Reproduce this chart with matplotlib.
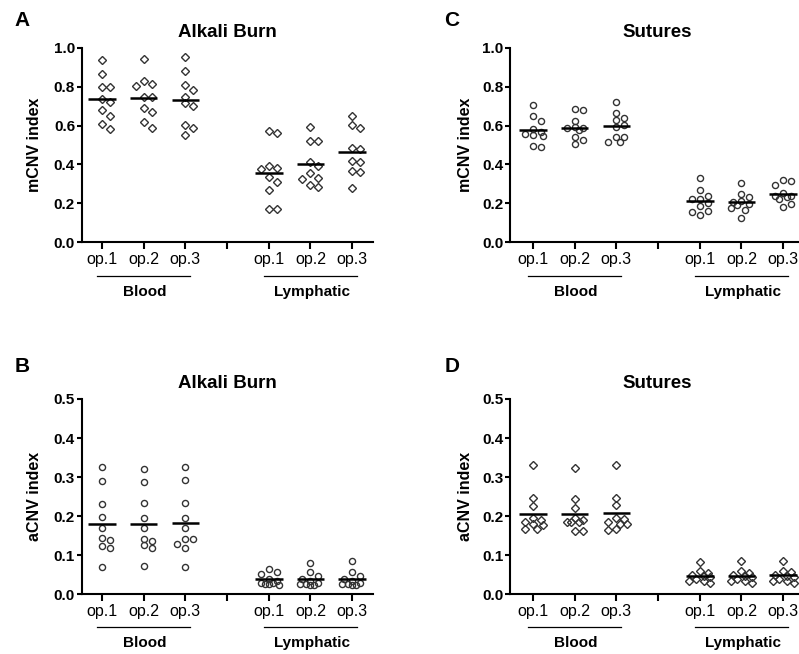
import numpy as np
import matplotlib
matplotlib.use("Agg")
import matplotlib.pyplot as plt
import matplotlib.transforms as mtransforms

plt.rcParams['font.family'] = ['Liberation Sans', 'DejaVu Sans']

# ---------------- data ----------------
tick_labels = ['op.1', 'op.2', 'op.3', '', 'op.1', 'op.2', 'op.3']
groups = ['Blood', 'Lymphatic']

# Panel A: Alkali Burn, mCNV index
A_blood_op1 = [0.936, 0.863, 0.799, 0.799, 0.734, 0.719, 0.679, 0.650, 0.606, 0.582]
A_blood_op2 = [0.940, 0.813, 0.830, 0.803, 0.745, 0.745, 0.688, 0.671, 0.616, 0.589]
A_blood_op3 = [0.950, 0.881, 0.808, 0.782, 0.748, 0.714, 0.700, 0.602, 0.585, 0.551]
A_lymph_op1 = [0.563, 0.572, 0.392, 0.383, 0.375, 0.337, 0.311, 0.269, 0.170, 0.173]
A_lymph_op2 = [0.591, 0.520, 0.520, 0.412, 0.394, 0.354, 0.332, 0.325, 0.293, 0.286]
A_lymph_op3 = [0.649, 0.602, 0.589, 0.486, 0.478, 0.419, 0.412, 0.366, 0.360, 0.280]

# Panel C: Sutures, mCNV index
C_blood_op1 = [0.705, 0.649, 0.625, 0.580, 0.565, 0.555, 0.550, 0.545, 0.497, 0.491]
C_blood_op2 = [0.683, 0.680, 0.625, 0.590, 0.585, 0.585, 0.575, 0.540, 0.525, 0.505]
C_blood_op3 = [0.723, 0.666, 0.637, 0.628, 0.603, 0.590, 0.543, 0.543, 0.517, 0.517]
C_lymph_op1 = [0.330, 0.270, 0.240, 0.225, 0.220, 0.200, 0.185, 0.160, 0.155, 0.140]
C_lymph_op2 = [0.303, 0.247, 0.235, 0.210, 0.205, 0.197, 0.190, 0.175, 0.166, 0.127]
C_lymph_op3 = [0.320, 0.316, 0.292, 0.252, 0.240, 0.235, 0.240, 0.222, 0.197, 0.183]

# Panel B: Alkali Burn, aCNV index
B_blood_op1 = [0.327, 0.291, 0.231, 0.199, 0.169, 0.143, 0.139, 0.124, 0.119, 0.069]
B_blood_op2 = [0.321, 0.287, 0.233, 0.195, 0.169, 0.142, 0.137, 0.125, 0.118, 0.073]
B_blood_op3 = [0.325, 0.293, 0.233, 0.195, 0.169, 0.141, 0.141, 0.128, 0.119, 0.069]
B_lymph_op1 = [0.065, 0.058, 0.052, 0.040, 0.035, 0.028, 0.028, 0.027, 0.027, 0.025]
B_lymph_op2 = [0.081, 0.056, 0.047, 0.040, 0.035, 0.028, 0.027, 0.026, 0.025, 0.025]
B_lymph_op3 = [0.086, 0.056, 0.047, 0.040, 0.035, 0.028, 0.027, 0.026, 0.025, 0.024]

# Panel D: Sutures, aCNV index
D_blood_op1 = [0.331, 0.246, 0.227, 0.195, 0.190, 0.186, 0.180, 0.178, 0.166, 0.166]
D_blood_op2 = [0.324, 0.243, 0.222, 0.195, 0.190, 0.186, 0.185, 0.185, 0.163, 0.163]
D_blood_op3 = [0.331, 0.246, 0.229, 0.195, 0.192, 0.186, 0.180, 0.180, 0.165, 0.166]
D_lymph_op1 = [0.083, 0.060, 0.055, 0.050, 0.048, 0.045, 0.038, 0.035, 0.033, 0.030]
D_lymph_op2 = [0.084, 0.060, 0.055, 0.050, 0.048, 0.045, 0.040, 0.035, 0.033, 0.030]
D_lymph_op3 = [0.084, 0.060, 0.058, 0.050, 0.048, 0.045, 0.040, 0.035, 0.033, 0.030]

panels = [
    dict(letter='A', title='Alkali Burn', ylabel='mCNV index', ymax=1.0, ystep=0.2, marker='D',
         data=[A_blood_op1, A_blood_op2, A_blood_op3, A_lymph_op1, A_lymph_op2, A_lymph_op3]),
    dict(letter='C', title='Sutures', ylabel='mCNV index', ymax=1.0, ystep=0.2, marker='o',
         data=[C_blood_op1, C_blood_op2, C_blood_op3, C_lymph_op1, C_lymph_op2, C_lymph_op3]),
    dict(letter='B', title='Alkali Burn', ylabel='aCNV index', ymax=0.5, ystep=0.1, marker='o',
         data=[B_blood_op1, B_blood_op2, B_blood_op3, B_lymph_op1, B_lymph_op2, B_lymph_op3]),
    dict(letter='D', title='Sutures', ylabel='aCNV index', ymax=0.5, ystep=0.1, marker='D',
         data=[D_blood_op1, D_blood_op2, D_blood_op3, D_lymph_op1, D_lymph_op2, D_lymph_op3]),
]

W, H = 799, 654
fig = plt.figure(figsize=(W / 100, H / 100), dpi=100)

# axes rectangles in pixels: (left, top, right, bottom)
rects = [(81.7, 47.7, 373.0, 242.3), (510.0, 47.7, 804.0, 242.3),
         (81.7, 399.0, 373.0, 594.3), (510.0, 399.0, 804.0, 594.3)]
xlims = [(0.513, 7.5), (0.45, 7.5), (0.513, 7.5), (0.45, 7.5)]
letter_pos = [(22, 21), (452, 21), (22, 366), (452, 367)]
ylab_x = [-0.136, -0.126, -0.136, -0.126]
positions = [1, 2, 3, 5, 6, 7]


def swarm_x(ax, xc, vals, step=8.0, min_d=6.5):
    """Greedy column scatter limited to a narrow band, overlapping when crowded."""
    T = ax.transData
    inv = T.inverted()
    placed = []
    out = np.zeros(len(vals))
    order = np.argsort(-np.asarray(vals), kind='stable')
    cands = [0, 1, -1, 0.5, -0.5, 1.3, -1.3]
    for i in order:
        px, py = T.transform((xc, vals[i]))
        best, best_d = px, -1
        for k in cands:
            c = px + k * step
            d = min([np.hypot(c - qx, py - qy) for qx, qy in placed] or [1e9])
            if d >= min_d:
                best = c
                break
            if d > best_d:
                best, best_d = c, d
        placed.append((best, py))
        out[i] = inv.transform((best, py))[0]
    return out


for p, r, xl, lp, ylx in zip(panels, rects, xlims, letter_pos, ylab_x):
    l, t, rr, b = r
    ax = fig.add_axes([l / W, 1 - b / H, (rr - l) / W, (b - t) / H])
    ax.set_xlim(*xl)
    ax.set_ylim(0, p['ymax'])
    for s in ['top', 'right']:
        ax.spines[s].set_visible(False)
    for s in ['left', 'bottom']:
        ax.spines[s].set_linewidth(1.5)
    ax.set_xticks(range(1, 8))
    ax.set_xticklabels(tick_labels, fontsize=11.5)
    yt = np.round(np.arange(0, p['ymax'] + 1e-9, p['ystep']), 2)
    ax.set_yticks(yt)
    ax.set_yticklabels([f'{v:.1f}' for v in yt], fontsize=11, fontweight='bold')
    ax.tick_params(axis='x', length=5, width=1.5, pad=2)
    ax.tick_params(axis='y', length=3.6, width=1.5, pad=1.2)
    ax.set_ylabel(p['ylabel'], fontsize=11.5, fontweight='bold')
    ax.yaxis.set_label_coords(ylx, 0.5)
    ax.set_title(p['title'], fontsize=13.5, fontweight='bold', pad=8)

    ms = 3.7 if p['marker'] == 'D' else 4.4
    for xc, vals in zip(positions, p['data']):
        xs = swarm_x(ax, xc, vals)
        ax.plot(xs, vals, linestyle='none', marker=p['marker'], ms=ms,
                mfc='none', mec='#333333', mew=1.0, zorder=3, clip_on=False)
        m = np.mean(vals)
        ax.plot([xc - 0.33, xc + 0.33], [m, m], color='black', lw=1.8, zorder=4,
                solid_capstyle='butt')

    trans = mtransforms.blended_transform_factory(ax.transData, ax.transAxes)
    uy = -0.172 if p['ymax'] == 1.0 else -0.168
    ty = -0.278 if p['ymax'] == 1.0 else -0.272
    for gname, gc in zip(groups, [2, 6]):
        ax.plot([gc - 1.12, gc + 1.12], [uy, uy], color='black', lw=0.9,
                transform=trans, clip_on=False)
        ax.text(gc + 0.03, ty, gname, transform=trans, ha='center', va='baseline',
                fontsize=11, fontweight='bold')

    fig.text(lp[0] / W, 1 - lp[1] / H, p['letter'], ha='center', va='center',
             fontsize=15, fontweight='bold')

fig.savefig('out.png', dpi=100)
